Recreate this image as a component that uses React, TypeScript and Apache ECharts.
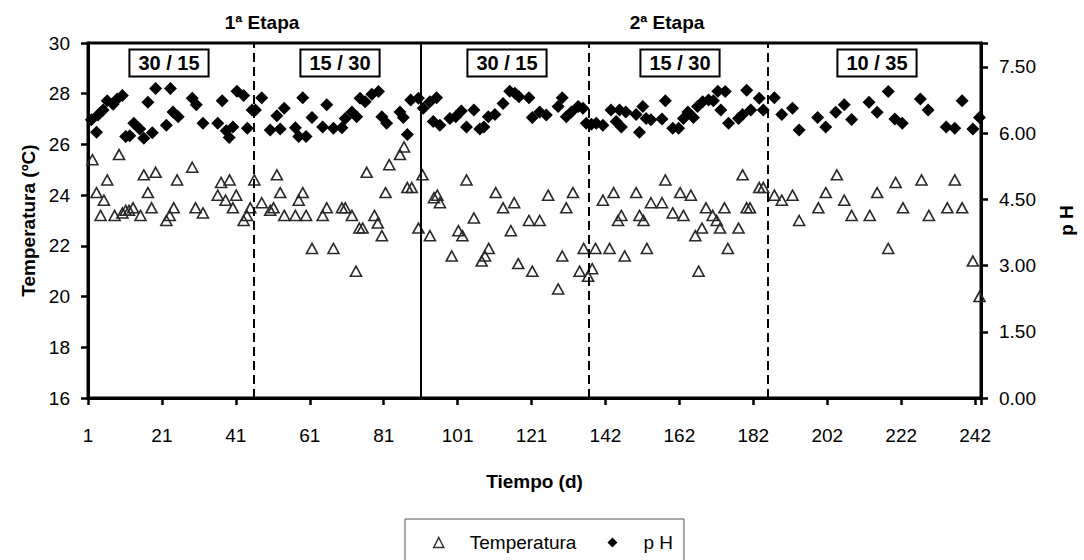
import React, { useEffect, useRef } from "react";
import * as echarts from "echarts";

// [posición en el eje de días (índice), valor]
const temperatura: number[][] = [
  [1.2, 25.4], [2.3, 24.1], [3.4, 23.2], [4.3, 23.8], [5.2, 24.6], [7.2, 23.2], [8.4, 25.6], [9.3, 23.3],
  [10.2, 23.4], [11.1, 23.4], [12.2, 23.5], [14.2, 23.2], [15.1, 24.8], [16.2, 24.1], [17.2, 23.5], [18.3, 24.9],
  [21.2, 23.0], [22.1, 23.2], [23.2, 23.5], [24.1, 24.6], [28.2, 25.1], [29.1, 23.5], [31.1, 23.3], [35.1, 24.0],
  [36, 24.5], [37.2, 23.8], [38.3, 24.6], [39.2, 23.5], [40.1, 24.0], [42.1, 23.0], [43, 23.2], [43.9, 23.5],
  [45, 24.6], [47, 23.7], [49.3, 23.4], [50.2, 23.5], [51.1, 24.8], [52, 24.1], [53.1, 23.2], [56.1, 23.2],
  [57, 23.8], [58.1, 24.1], [59, 23.2], [60.6, 21.9], [63.5, 23.2], [64.6, 23.5], [66.4, 21.9], [68.7, 23.5],
  [69.6, 23.5], [71.4, 23.2], [72.5, 21.0], [73.4, 22.7], [74.3, 22.7], [75.4, 24.9], [77.5, 23.2], [78.4, 22.9],
  [79.5, 22.4], [80.5, 24.1], [81.5, 25.2], [84.4, 25.6], [85.5, 25.9], [86.4, 24.3], [87.6, 24.3], [89.4, 22.7],
  [90.5, 24.8], [92.5, 22.4], [93.6, 23.9], [94.5, 24.0], [95.2, 23.7], [98.4, 21.6], [100.2, 22.6], [101.3, 22.4],
  [102.4, 24.6], [104.4, 23.1], [106.5, 21.4], [107.4, 21.6], [108.4, 21.9], [110.3, 24.1], [112.3, 23.5], [114.4, 22.6],
  [115.3, 23.7], [116.4, 21.3], [119.3, 23.0], [120.2, 21.0], [122.2, 23.0], [124.5, 24.0], [127.2, 20.3], [128.3, 21.6],
  [129.4, 23.5], [131.2, 24.1], [133, 21.0], [134.1, 21.9], [135.3, 20.8], [136.4, 21.1], [137.3, 21.9], [139.3, 23.8],
  [141.1, 21.9], [142.2, 24.1], [143.4, 23.0], [144.3, 23.2], [145.2, 21.6], [148.3, 24.1], [149.2, 23.2], [150.3, 23.0],
  [151.2, 21.9], [152.3, 23.7], [155.3, 23.7], [156.2, 24.6], [158.2, 23.3], [160.2, 24.1], [161.1, 23.2], [163.1, 24.0],
  [164.3, 22.4], [165.2, 21.0], [166.1, 22.7], [167.2, 23.5], [169, 23.2], [170.1, 23.0], [171, 22.7], [172.2, 23.5],
  [173.1, 21.9], [176, 22.7], [177.1, 24.8], [178.2, 23.5], [179.1, 23.5], [181.6, 24.3], [182.7, 24.3], [185.7, 24.0],
  [187.7, 23.8], [190.6, 24.0], [192.4, 23.0], [197.6, 23.5], [199.6, 24.1], [202.6, 24.8], [204.6, 23.8], [206.6, 23.2],
  [211.5, 23.2], [213.5, 24.1], [216.5, 21.9], [218.5, 24.5], [220.5, 23.5], [225.5, 24.6], [227.5, 23.2], [232.5, 23.5],
  [234.5, 24.6], [236.5, 23.5], [239.4, 21.4], [241.2, 20.0],
];

const ph: number[][] = [
  [0.9, 6.30], [2.3, 6.02], [2.7, 6.41], [4.1, 6.52], [5.2, 6.73], [6.8, 6.65], [7.9, 6.77], [9.3, 6.85],
  [10.2, 5.92], [11.3, 5.94], [12.4, 6.22], [14, 6.09], [15.1, 5.88], [16.2, 6.70], [17.4, 6.01], [18.3, 7.01],
  [21.2, 6.18], [22.3, 7.01], [23, 6.48], [24.4, 6.37], [28.2, 6.79], [29.3, 6.64], [31.1, 6.22], [35.1, 6.22],
  [36.3, 6.73], [37.4, 6.05], [38.2, 5.90], [39.2, 6.14], [40.3, 6.95], [42.1, 6.85], [43.1, 6.11], [44.4, 6.52],
  [45.3, 6.52], [47, 6.80], [49.3, 6.07], [51.1, 6.39], [52, 6.09], [53.1, 6.56], [56.1, 6.12], [57, 5.92],
  [58.1, 6.80], [59, 5.92], [60.6, 6.35], [63.5, 6.14], [64.6, 6.64], [66.4, 6.11], [68.7, 6.12], [69.6, 6.33],
  [71.4, 6.48], [72.7, 6.37], [73.6, 6.79], [75, 6.71], [76.8, 6.88], [78.6, 6.94], [79.5, 6.37], [80.8, 6.22],
  [84.4, 6.48], [85.3, 6.35], [86.4, 5.97], [87.3, 6.75], [89.4, 6.79], [90.7, 6.56], [92.5, 6.71], [93.4, 6.26],
  [94.3, 6.80], [95.2, 6.18], [97.9, 6.33], [99.5, 6.37], [101, 6.50], [102.4, 6.14], [104.4, 6.52], [106, 6.09],
  [107.1, 6.14], [108.3, 6.37], [110.1, 6.42], [112.3, 6.67], [114.1, 6.95], [115.5, 6.90], [116.6, 6.82], [119.3, 6.80],
  [120.2, 6.35], [122.2, 6.48], [124, 6.41], [127.2, 6.60], [128.3, 6.80], [129.4, 6.37], [130.8, 6.48], [132.6, 6.60],
  [133.9, 6.56], [134.8, 6.22], [136.2, 6.20], [137.5, 6.22], [139.3, 6.18], [141.5, 6.52], [142.9, 6.26], [143.8, 6.52],
  [144.3, 6.14], [145.5, 6.48], [148.3, 6.42], [149.2, 6.02], [150.1, 6.60], [151, 6.33], [152.3, 6.30], [155.3, 6.32],
  [156.2, 6.73], [158.2, 6.11], [159.8, 6.11], [161.1, 6.33], [162.3, 6.48], [163.8, 6.35], [164.9, 6.60], [166.3, 6.71],
  [167.9, 6.75], [169.2, 6.73], [170.4, 6.95], [171.2, 6.52], [172.4, 6.94], [173.3, 6.22], [176, 6.33], [177.1, 6.42],
  [178.2, 6.97], [179.3, 6.52], [181.6, 6.79], [182.7, 6.52], [185.7, 6.80], [187.7, 6.42], [190.6, 6.56], [192.4, 6.07],
  [197.4, 6.35], [199.6, 6.14], [202.3, 6.47], [204.6, 6.64], [206.6, 6.31], [211.3, 6.70], [213.5, 6.47], [216.5, 6.94],
  [218.3, 6.32], [220.3, 6.22], [225.2, 6.77], [227.3, 6.52], [232.2, 6.14], [234.5, 6.11], [236.5, 6.73], [239.4, 6.09],
  [241.2, 6.35],
];

const diasEtiqueta = ["1", "21", "41", "61", "81", "101", "121", "142", "162", "182", "202", "222", "242"];
const limiteEtapas = [90.05];
const limitesRegimen = [44.9, 135.4, 183.9];
const regimenes = ["30 / 15", "15 / 30", "30 / 15", "15 / 30", "10 / 35"];
const etapas = ["1ª Etapa", "2ª Etapa"];

const FONT = "'Liberation Sans', Arial, sans-serif";

export default function App() {
  const ref = useRef<HTMLDivElement>(null);
  useEffect(() => {
    if (!ref.current) return;
    const chart = echarts.init(ref.current, null, { renderer: "svg" });
    const regX = [169, 340, 507, 680, 877];
    const etapaX = [262, 667];
    const option: any = {
      animation: false,
      textStyle: { fontFamily: FONT },
      grid: {
        left: 88, right: 101, top: 43, bottom: 162,
        show: true, borderColor: "#000", borderWidth: 3, backgroundColor: "transparent",
      },
      xAxis: {
        type: "value", min: 0, max: 241.6, interval: 20,
        name: "Tiempo (d)", nameLocation: "middle", nameGap: 74,
        nameTextStyle: { fontFamily: FONT, fontWeight: "bold", fontSize: 19, color: "#000" },
        axisLine: { lineStyle: { color: "#000", width: 3 } },
        axisTick: { length: 7, lineStyle: { color: "#000", width: 2.5 } },
        axisLabel: {
          margin: 28, fontSize: 19, color: "#000", fontFamily: FONT,
          formatter: (v: number) => (Math.abs(v % 20) < 1e-6 ? diasEtiqueta[Math.round(v / 20)] ?? "" : ""),
        },
        splitLine: { show: false },
      },
      yAxis: [
        {
          type: "value", min: 16, max: 30, interval: 2, position: "left",
          name: "Temperatura (ºC)", nameLocation: "middle", nameGap: 48, nameRotate: 90,
          nameTextStyle: { fontFamily: FONT, fontWeight: "bold", fontSize: 19, color: "#000" },
          axisLine: { show: true, lineStyle: { color: "#000", width: 3 } },
          axisTick: { show: true, length: 7, lineStyle: { color: "#000", width: 2.5 } },
          axisLabel: { margin: 18, fontSize: 19, color: "#000", fontFamily: FONT },
          splitLine: { show: false },
        },
        {
          type: "value", min: 0, max: 8.04, interval: 1.5, position: "right",
          name: "p H", nameLocation: "middle", nameGap: 76, nameRotate: 90,
          nameTextStyle: { fontFamily: FONT, fontWeight: "bold", fontSize: 19, color: "#000" },
          axisLine: { show: true, lineStyle: { color: "#000", width: 3 } },
          axisTick: { show: true, length: 7, lineStyle: { color: "#000", width: 2.5 } },
          axisLabel: {
            margin: 18, fontSize: 19, color: "#000", fontFamily: FONT,
            formatter: (v: number) => (v > 7.6 ? "" : v.toFixed(2)),
          },
          splitLine: { show: false },
        },
      ],
      legend: {
        left: 405, top: 519,
        padding: [14, 11, 14, 28],
        borderColor: "#555", borderWidth: 1,
        itemWidth: 10, itemHeight: 10, itemGap: 31,
        textStyle: { fontFamily: FONT, fontSize: 19, color: "#000", padding: [0, 0, 0, 21] },
        data: [
          { name: "Temperatura", icon: "triangle", itemStyle: { color: "#fff", borderColor: "#333", borderWidth: 1.5, opacity: 1 } },
          { name: "p H", icon: "diamond", itemStyle: { color: "#000", opacity: 1 } },
        ],
      },
      series: [
        {
          type: "line", data: [], z: 1, silent: true,
          markLine: {
            silent: true, symbol: "none", label: { show: false },
            data: [
              ...limiteEtapas.map((x) => ({ xAxis: x, lineStyle: { type: "solid", color: "#000", width: 2 } })),
              ...limitesRegimen.map((x) => ({ xAxis: x, lineStyle: { type: [9, 5], color: "#000", width: 2 } })),
            ],
          },
        },
        {
          name: "Temperatura", type: "scatter", yAxisIndex: 0, z: 3,
          symbol: "triangle", symbolSize: [11, 10],
          itemStyle: { color: "rgba(255,255,255,0)", borderColor: "#2a2a2a", borderWidth: 1.6, opacity: 1 },
          data: temperatura,
        },
        {
          name: "p H", type: "scatter", yAxisIndex: 1, z: 4,
          symbol: "diamond", symbolSize: 13,
          itemStyle: { color: "#000", opacity: 1 },
          data: ph,
        },
      ],
      graphic: [
        ...etapas.map((t, i) => ({
          type: "text", x: etapaX[i], y: 22, z: 10,
          style: { text: t, fontFamily: FONT, fontWeight: "bold", fontSize: 19, fill: "#000", align: "center", verticalAlign: "middle" },
        })),
        ...regimenes.map((t, i) => ({
          type: "text", x: regX[i], y: 63, z: 10,
          style: {
            text: t, fontFamily: FONT, fontWeight: "bold", fontSize: 20, fill: "#000",
            align: "center", verticalAlign: "middle",
            backgroundColor: "#fff", borderColor: "#000", borderWidth: 2, padding: [3, 8, 2, 8],
          },
        })),
      ],
    };
    chart.setOption(option);
    return () => chart.dispose();
  }, []);
  return <div ref={ref} style={{ position: "absolute", left: 0, top: 0, width: 1084, height: 560 }} />;
}
